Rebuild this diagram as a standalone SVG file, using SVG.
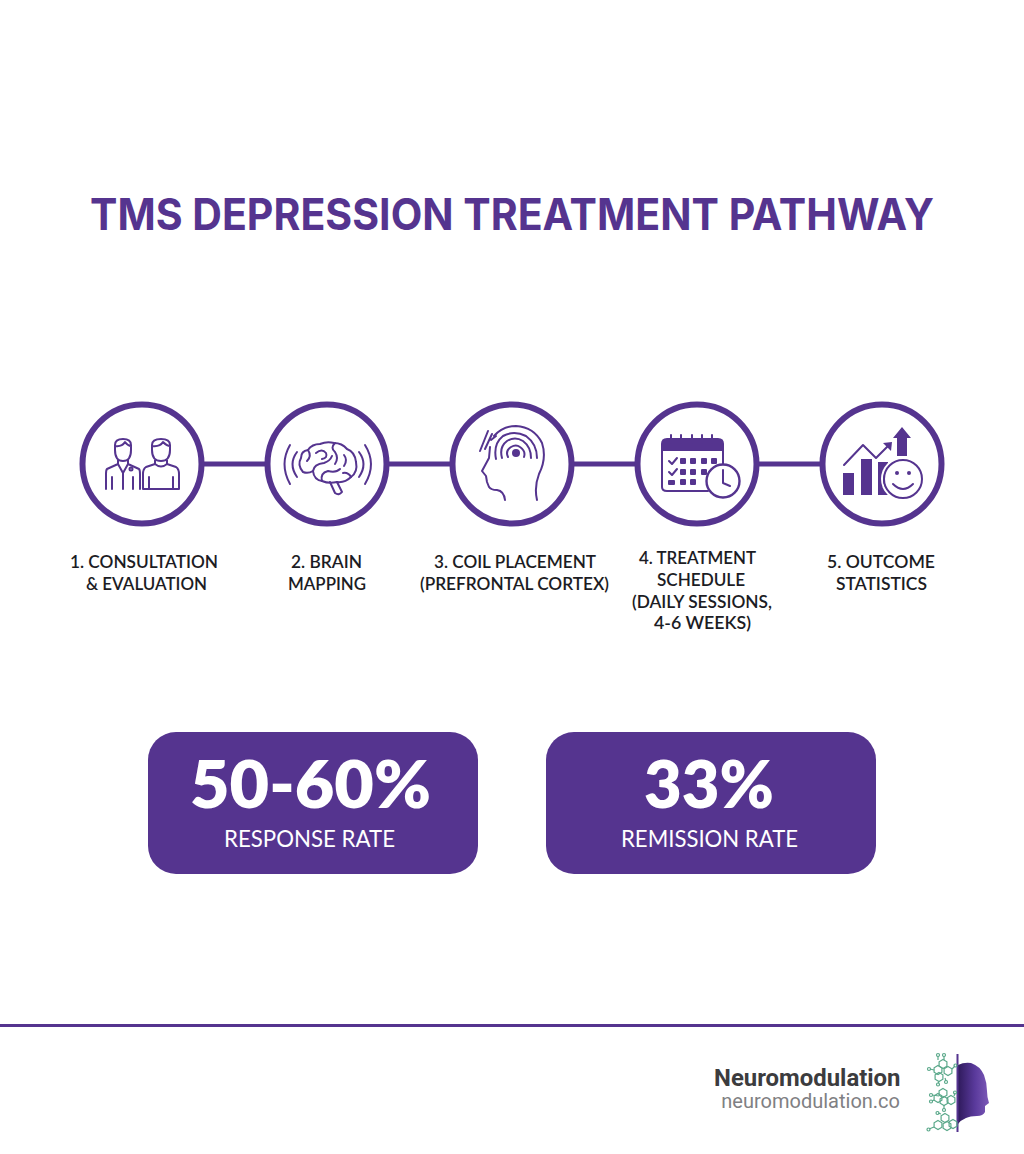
<svg xmlns="http://www.w3.org/2000/svg" width="1024" height="1154" viewBox="0 0 1024 1154">
<defs>
<style>
.ring{fill:#fff;stroke:#55348f;stroke-width:6}
.ln{fill:none;stroke:#55348f;stroke-width:2;stroke-linecap:round;stroke-linejoin:round}
.f{fill:#55348f}
.lb{font-family:Lato,"Liberation Sans",sans-serif;font-size:17.5px;font-weight:600;fill:#1c1c24;text-anchor:middle}
.big{font-family:Lato,"Liberation Sans",sans-serif;font-size:66px;font-weight:800;fill:#fff;text-anchor:middle}
.sub{font-family:Lato,"Liberation Sans",sans-serif;font-size:23px;fill:#fff;text-anchor:middle}
.g{fill:none;stroke:#5aa88a;stroke-width:1.2}
</style>
<linearGradient id="face" x1="0" x2="1"><stop offset="0" stop-color="#2f1a5c"/><stop offset="0.55" stop-color="#5a3a9c"/><stop offset="1" stop-color="#7d5ab8"/></linearGradient>
<polygon id="hex" points="0,-4.5 3.9,-2.25 3.9,2.25 0,4.5 -3.9,2.25 -3.9,-2.25"/>
</defs>
<rect width="1024" height="1154" fill="#fff"/>
<text x="512" y="230" textLength="844" lengthAdjust="spacingAndGlyphs" font-family="Inter,'Liberation Sans',sans-serif" font-size="43.5px" font-weight="700" fill="#55348f" text-anchor="middle">TMS DEPRESSION TREATMENT PATHWAY</text>
<g id="connectors" stroke="#55348f" stroke-width="5">
<line x1="200" y1="464" x2="268" y2="464"/><line x1="385" y1="464" x2="452" y2="464"/><line x1="570" y1="464" x2="637" y2="464"/><line x1="755" y1="464" x2="822" y2="464"/>
</g>
<g id="node1">
<circle class="ring" cx="142" cy="464" r="59.5"/>
<path class="ln" d="M115 450V445Q115 439 123 439Q131 439 131 445V450Q131 461 123 461Q115 461 115 450ZM115 446Q122 447 125 442Q128 446 131 446M118 460V464L107 469Q106 470 106 474V489M128 460V464L139 469Q140 470 140 474V489M118 464L123 473L128 464M123 473V489M112 477V489M133 477V489"/>
<circle class="ln" cx="131" cy="469" r="1.5"/>
<path class="ln" d="M152 450V445Q152 439 161 439Q170 439 170 445V450Q170 461 161 461Q152 461 152 450ZM152 446Q160 447 163 442Q167 446 170 446M155 460V464L146 467Q143 469 143 474V489H179V474Q179 469 176 467L167 464V460M155 464Q161 469 167 464M149 477V489M173 477V489"/>
</g>
<g id="node2">
<circle class="ring" cx="327" cy="464" r="59.5"/>
<path class="ln" d="M290 445Q279 464 290 484M297 452Q288 464 297 477M365 445Q377 464 365 484M359 452Q368 464 359 477"/>
<path class="ln" d="M303 472Q297 465 301 458Q301 451 308 450Q312 444 320 444Q327 441 334 443Q342 443 347 449Q355 452 356 462Q358 472 351 477Q345 483 337 482Q329 484 322 481Q314 480 313 471Q308 474 303 472Z"/>
<path class="ln" d="M330 482L335 493Q339 496 342 492L337 482M313 471Q314 464 324 463Q330 461 332 456M308 450Q312 456 307 461M316 453Q322 448 326 453Q328 458 322 459M335 443Q330 448 335 452Q339 458 335 464M344 455Q348 460 344 466M322 481Q320 473 328 471Q336 473 340 469M351 477Q348 472 343 473"/>
</g>
<g id="node3">
<circle class="ring" cx="512" cy="464" r="59.5"/>
<path class="ln" stroke-width="2.2" d="M494 436Q503 426 516 426Q534 427 542 443Q547 458 539 474Q534 487 537 500M490 447L489 458L482 471L486 476L487 482L489 487Q491 490 497 490Q504 491 505 500"/>
<path class="ln" d="M496 459Q493 444 503 436Q514 430 526 436Q537 444 537 458M502 458Q499 447 507 441Q515 436 523 441Q531 447 531 458M508 457Q505 451 511 447Q516 444 520 447Q526 451 524 457"/>
<circle class="f" cx="516" cy="453" r="4"/>
<path class="ln" d="M480 451L488 431M485 449L492 434M491 440L496 436"/>
</g>
<g id="node4">
<circle class="ring" cx="697" cy="464" r="59.5"/>
<path class="ln" d="M662 447V487Q662 491 667 491H708M723 465V447"/>
<path class="f" d="M661 451V444Q661 438 667 438H718Q724 438 724 444V451Z"/>
<path class="ln" d="M671 435V443M681 435V443M692 435V443M702 435V443M712 435V443"/>
<path class="ln" stroke-width="2.4" d="M669 461L672 464L677 458M669 472L672 475L677 469"/>
<g class="f"><rect x="680" y="458" width="6" height="6" rx="1"/><rect x="690" y="458" width="6" height="6" rx="1"/><rect x="701" y="458" width="6" height="6" rx="1"/><rect x="711" y="458" width="6" height="6" rx="1"/><rect x="680" y="469" width="6" height="6" rx="1"/><rect x="690" y="469" width="6" height="6" rx="1"/><rect x="701" y="469" width="6" height="6" rx="1"/><rect x="668" y="480" width="7" height="5" rx="1"/><rect x="680" y="479" width="6" height="6" rx="1"/><rect x="690" y="479" width="6" height="6" rx="1"/></g>
<circle cx="723" cy="481" r="16.500" fill="#fff" stroke="#55348f" stroke-width="2.4"/>
<path class="ln" d="M723 470V483L730 486"/>
</g>
<g id="node5">
<circle class="ring" cx="882" cy="464" r="59.5"/>
<rect class="f" x="843" y="473" width="11" height="22"/><rect class="f" x="861" y="459" width="11" height="36"/><rect class="f" x="878" y="462" width="10" height="33"/>
<path class="ln" d="M844 465L863 445L876 458L889 445"/>
<path class="f" d="M892 442L883 443L891 451Z"/>
<path class="f" d="M897 456V438H893L902 427L911 438H907V456Z"/>
<circle cx="903" cy="479" r="22" fill="#fff"/>
<path class="ln" d="M890 468Q878 480 890 492"/>
<circle cx="903" cy="479" r="19" fill="#fff" stroke="#55348f" stroke-width="2"/>
<circle class="f" cx="897" cy="473" r="2"/><circle class="f" cx="909" cy="473" r="2"/>
<path class="ln" d="M893 484Q903 494 913 484"/>
</g>
<g id="labels">
<text class="lb" x="144" y="568" textLength="148" lengthAdjust="spacingAndGlyphs">1. CONSULTATION</text><text class="lb" x="146.500" y="590" textLength="121" lengthAdjust="spacingAndGlyphs">&amp; EVALUATION</text>
<text class="lb" x="326.500" y="568" textLength="71" lengthAdjust="spacingAndGlyphs">2. BRAIN</text><text class="lb" x="327" y="590" textLength="78" lengthAdjust="spacingAndGlyphs">MAPPING</text>
<text class="lb" x="515" y="568" textLength="162" lengthAdjust="spacingAndGlyphs">3. COIL PLACEMENT</text><text class="lb" x="514.500" y="590" textLength="189" lengthAdjust="spacingAndGlyphs">(PREFRONTAL CORTEX)</text>
<text class="lb" x="697.500" y="564" textLength="117" lengthAdjust="spacingAndGlyphs">4. TREATMENT</text><text class="lb" x="701" y="586" textLength="88" lengthAdjust="spacingAndGlyphs">SCHEDULE</text><text class="lb" x="702" y="608" textLength="140" lengthAdjust="spacingAndGlyphs">(DAILY SESSIONS,</text><text class="lb" x="702.500" y="629" textLength="97" lengthAdjust="spacingAndGlyphs">4-6 WEEKS)</text>
<text class="lb" x="881" y="568" textLength="108" lengthAdjust="spacingAndGlyphs">5. OUTCOME</text><text class="lb" x="881.500" y="590" textLength="91" lengthAdjust="spacingAndGlyphs">STATISTICS</text>
</g>
<g id="stat1"><rect class="f" x="148" y="732" width="330" height="142" rx="28"/><text class="big" x="310.500" y="808" textLength="241" lengthAdjust="spacingAndGlyphs">50-60%</text><text class="sub" x="309.500" y="847" textLength="171" lengthAdjust="spacingAndGlyphs">RESPONSE RATE</text></g>
<g id="stat2"><rect class="f" x="546" y="732" width="330" height="142" rx="28"/><text class="big" x="709" y="808" textLength="130" lengthAdjust="spacingAndGlyphs">33%</text><text class="sub" x="709.500" y="847" textLength="177" lengthAdjust="spacingAndGlyphs">REMISSION RATE</text></g>
<rect x="0" y="1024" width="1024" height="3" class="f"/>
<g id="brand">
<text x="900.500" y="1086" font-family="Roboto,'Liberation Sans',sans-serif" font-size="23.900px" font-weight="700" fill="#3c3c3e" text-anchor="end">Neuromodulation</text>
<text x="900" y="1108" font-family="Roboto,'Liberation Sans',sans-serif" font-size="20px" fill="#808083" text-anchor="end">neuromodulation.co</text>
<path fill="url(#face)" d="M958 1065Q964 1062 971 1063Q980 1066 984 1075Q987 1083 987 1091Q987 1097 989 1103L985 1106L985 1112Q983 1116 977 1116Q970 1116 966 1118Q961 1120 958 1124Z"/>
<rect x="956.500" y="1054" width="2" height="78" class="f"/>
<g class="g">
<use href="#hex" x="943" y="1064"/><use href="#hex" x="948" y="1071"/><use href="#hex" x="938" y="1070"/><use href="#hex" x="939" y="1077"/>
<use href="#hex" x="943" y="1093"/><use href="#hex" x="938" y="1098"/><use href="#hex" x="944" y="1101"/><use href="#hex" x="951" y="1100"/>
<use href="#hex" x="945" y="1118"/><use href="#hex" x="938" y="1125"/><use href="#hex" x="947" y="1126"/><use href="#hex" x="953" y="1124"/>
<path d="M938 1060V1056M944 1060V1056M934 1070L930 1069M952 1069L955 1066M945 1078L946 1081M939 1082L938 1083M939 1096L932 1095M934 1100L932 1101M954 1096L955 1093M944 1105V1109M941 1114L938 1113M934 1127L929 1129"/>
<circle cx="938" cy="1055" r="1.500"/><circle cx="944" cy="1055" r="1.500"/><circle cx="929" cy="1069" r="1.500"/><circle cx="955.500" cy="1065.500" r="1.500"/><circle cx="946" cy="1082" r="1.500"/><circle cx="938" cy="1084.500" r="1.500"/><circle cx="931" cy="1095" r="1.500"/><circle cx="931" cy="1101.500" r="1.500"/><circle cx="955" cy="1092.500" r="1.500"/><circle cx="944" cy="1110" r="1.500"/><circle cx="937.500" cy="1113" r="1.500"/><circle cx="928.500" cy="1129.500" r="1.500"/>
</g>
</g>
</svg>
